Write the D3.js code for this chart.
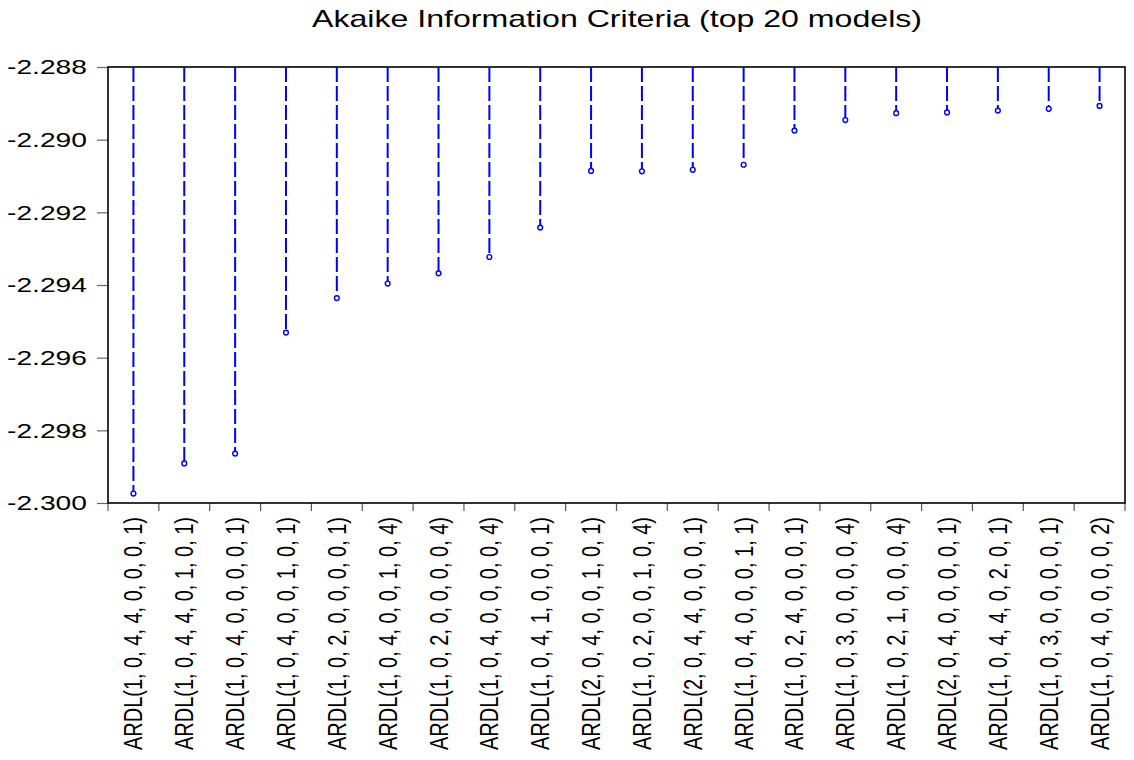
<!DOCTYPE html>
<html>
<head>
<meta charset="utf-8">
<script src="https://cdn.jsdelivr.net/npm/d3@7"></script>
<style>
  body { margin: 0; background: #fff; }
  text { font-family: "Liberation Sans", Arial, sans-serif; fill: #000; }
</style>
</head>
<body>
<div id="chart"></div>
<script>
// model labels, as printed under the axis
var models = [
    "ARDL(1, 0, 4, 4, 0, 0, 0, 1)",
    "ARDL(1, 0, 4, 4, 0, 1, 0, 1)",
    "ARDL(1, 0, 4, 0, 0, 0, 0, 1)",
    "ARDL(1, 0, 4, 0, 0, 1, 0, 1)",
    "ARDL(1, 0, 2, 0, 0, 0, 0, 1)",
    "ARDL(1, 0, 4, 0, 0, 1, 0, 4)",
    "ARDL(1, 0, 2, 0, 0, 0, 0, 4)",
    "ARDL(1, 0, 4, 0, 0, 0, 0, 4)",
    "ARDL(1, 0, 4, 1, 0, 0, 0, 1)",
    "ARDL(2, 0, 4, 0, 0, 1, 0, 1)",
    "ARDL(1, 0, 2, 0, 0, 1, 0, 4)",
    "ARDL(2, 0, 4, 4, 0, 0, 0, 1)",
    "ARDL(1, 0, 4, 0, 0, 0, 1, 1)",
    "ARDL(1, 0, 2, 4, 0, 0, 0, 1)",
    "ARDL(1, 0, 3, 0, 0, 0, 0, 4)",
    "ARDL(1, 0, 2, 1, 0, 0, 0, 4)",
    "ARDL(2, 0, 4, 0, 0, 0, 0, 1)",
    "ARDL(1, 0, 4, 4, 0, 2, 0, 1)",
    "ARDL(1, 0, 3, 0, 0, 0, 0, 1)",
    "ARDL(1, 0, 4, 0, 0, 0, 0, 2)"
];

// AIC value of each model
var aic = [
    -2.29974, -2.29891, -2.29864, -2.29531, -2.29436,
    -2.29396, -2.29368, -2.29323, -2.29242, -2.29086,
    -2.29087, -2.29083, -2.29069, -2.28975, -2.28946,
    -2.28927, -2.28925, -2.28920, -2.28915, -2.28907
];

var yTicks = [-2.288, -2.290, -2.292, -2.294, -2.296, -2.298, -2.300];
var yTickLabels = ["-2.288", "-2.290", "-2.292", "-2.294", "-2.296", "-2.298", "-2.300"];

var W = 1134, H = 760;
var plotLeft = 108, plotRight = 1125, plotTop = 67, plotBottom = 503;

var svg = d3.select("#chart").append("svg")
    .attr("width", W)
    .attr("height", H);

var xScale = d3.scaleBand()
    .domain(d3.range(models.length))
    .range([plotLeft, plotRight]);

var yScale = d3.scaleLinear()
    .domain([-2.300, -2.288])
    .range([plotBottom, plotTop]);

// title
svg.append("text")
    .attr("x", 617)
    .attr("y", 27)
    .attr("text-anchor", "middle")
    .attr("font-size", 24)
    .attr("textLength", 610)
    .attr("lengthAdjust", "spacingAndGlyphs")
    .text("Akaike Information Criteria (top 20 models)");

// y axis
var yAxis = d3.axisLeft(yScale)
    .tickValues(yTicks)
    .tickSize(11)
    .tickPadding(10)
    .tickFormat(function(d, i) { return yTickLabels[i]; });

var gy = svg.append("g")
    .attr("transform", "translate(" + plotLeft + ",0)")
    .call(yAxis);
gy.select(".domain").remove();
gy.selectAll(".tick line").attr("stroke", "#666").attr("stroke-width", 1.2);
gy.selectAll(".tick text")
    .attr("font-size", 21)
    .attr("textLength", 80)
    .attr("lengthAdjust", "spacingAndGlyphs")
    .style("font-family", "'Liberation Sans', Arial, sans-serif")
    .attr("fill", "#000");

// category ticks on the bottom edge, between the models
var bounds = d3.range(models.length + 1).map(function(i) {
    return i < models.length ? xScale(i) : xScale.range()[1];
});
svg.selectAll(".xtick")
    .data(bounds)
    .enter()
    .append("line")
    .attr("class", "xtick")
    .attr("x1", function(d) { return d; })
    .attr("x2", function(d) { return d; })
    .attr("y1", plotBottom)
    .attr("y2", plotBottom + 8)
    .attr("stroke", "#555")
    .attr("stroke-width", 1.2);

// frame
svg.append("rect")
    .attr("x", plotLeft)
    .attr("y", plotTop)
    .attr("width", plotRight - plotLeft)
    .attr("height", plotBottom - plotTop)
    .attr("fill", "none")
    .attr("stroke", "#000")
    .attr("stroke-width", 1.6);

// spikes, hanging from the top of the plot
svg.selectAll(".spike")
    .data(aic)
    .enter()
    .append("line")
    .attr("class", "spike")
    .attr("x1", function(d, i) { return xScale(i) + xScale.bandwidth() / 2; })
    .attr("x2", function(d, i) { return xScale(i) + xScale.bandwidth() / 2; })
    .attr("y1", yScale(-2.288))
    .attr("y2", function(d) { return yScale(d); })
    .attr("stroke", "#0000ff")
    .attr("stroke-width", 2)
    .attr("stroke-dasharray", "15,4");

svg.selectAll(".dot")
    .data(aic)
    .enter()
    .append("circle")
    .attr("class", "dot")
    .attr("cx", function(d, i) { return xScale(i) + xScale.bandwidth() / 2; })
    .attr("cy", function(d) { return yScale(d); })
    .attr("r", 2.4)
    .attr("fill", "#fff")
    .attr("stroke", "#0000ff")
    .attr("stroke-width", 1.4);

// rotated model labels
svg.selectAll(".mlabel")
    .data(models)
    .enter()
    .append("text")
    .attr("class", "mlabel")
    .attr("transform", function(d, i) {
        var x = xScale(i) + xScale.bandwidth() / 2 + 9;
        return "translate(" + x + ",517) rotate(-90)";
    })
    .attr("text-anchor", "end")
    .attr("font-size", 25)
    .attr("textLength", 233)
    .attr("lengthAdjust", "spacingAndGlyphs")
    .text(function(d) { return d; });
</script>
</body>
</html>
